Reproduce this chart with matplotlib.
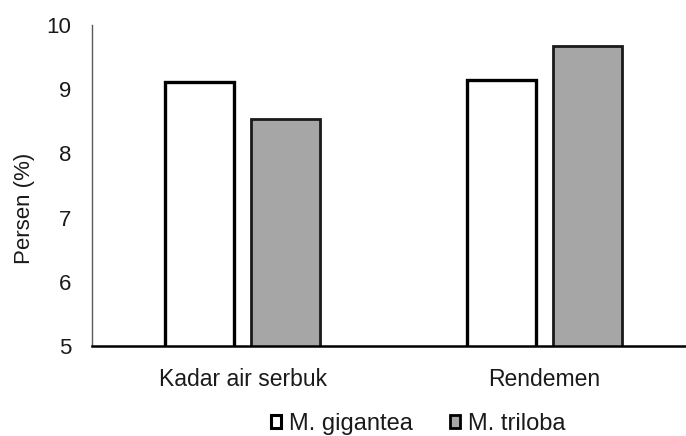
import numpy as np
import matplotlib.pyplot as plt
from matplotlib.patches import Patch

plt.rcParams['font.family'] = ['Liberation Sans', 'DejaVu Sans']

# Data
categories = ['Kadar air serbuk', 'Rendemen']
series_names = ['M. gigantea', 'M. triloba']
gigantea = [9.11, 9.14]
triloba = [8.53, 9.67]

x = np.arange(len(categories))
w = 0.229
off = 0.143

fig = plt.figure(figsize=(6.86, 4.36), dpi=100)
# plot area runs a little past the right edge, as in the source image
ax = fig.add_axes([92/686, 1 - 346/436, 603/686, (346-25)/436])

ax.bar(x - off, gigantea, w, bottom=0, color='white', edgecolor='black', linewidth=2.4)
ax.bar(x + off, triloba, w, bottom=0, color='#a6a6a6', edgecolor='#1a1a1a', linewidth=2.0)

ax.set_ylim(5, 10)
ax.set_xlim(-0.5, 1.5)
ax.set_yticks([5, 6, 7, 8, 9, 10])
ax.set_xticks(x)
ax.set_xticklabels(categories, fontsize=16.5, color='#1a1a1a')
ax.tick_params(axis='x', length=0, pad=16)
ax.tick_params(axis='y', length=0, labelsize=16, pad=15, labelcolor='#1a1a1a')
ax.set_ylabel('Persen (%)', fontsize=16, labelpad=8, y=0.43, color='#1a1a1a')

for s in ['top', 'right']:
    ax.spines[s].set_visible(False)
ax.spines['left'].set_color('#595959')
ax.spines['left'].set_linewidth(1.0)
ax.spines['bottom'].set_color('black')
ax.spines['bottom'].set_linewidth(1.8)

handles = [Patch(facecolor='white', edgecolor='black', linewidth=2.2),
           Patch(facecolor='#a6a6a6', edgecolor='black', linewidth=2.0)]
fig.legend(handles, series_names, loc='center left', bbox_to_anchor=(271/686, 1 - 424/436),
           ncol=2, frameon=False, fontsize=17, handlelength=0.42, handleheight=0.42,
           handletextpad=0.33, columnspacing=1.6, borderpad=0, borderaxespad=0,
           labelcolor='#1a1a1a')

fig.savefig('out.png', dpi=100)
